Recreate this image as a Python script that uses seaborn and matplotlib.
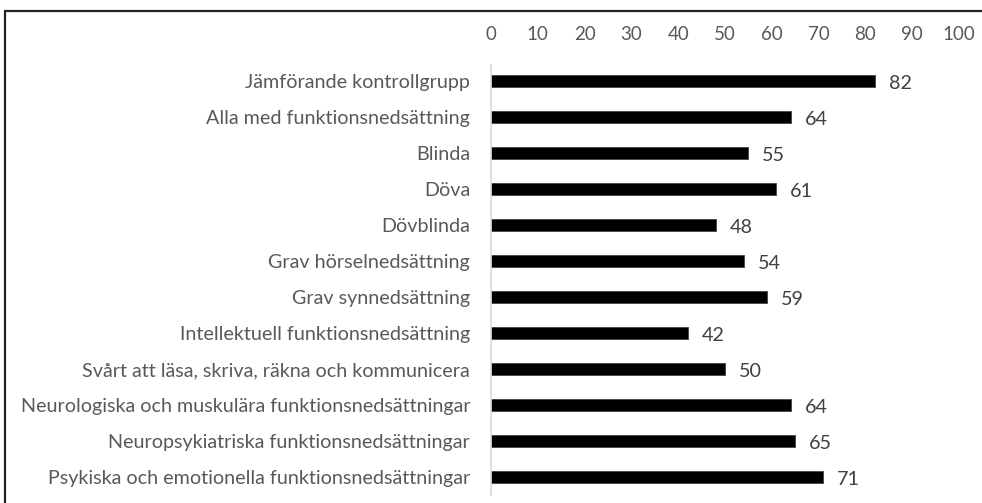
import matplotlib
matplotlib.use("Agg")
import matplotlib.pyplot as plt
from matplotlib.lines import Line2D
import seaborn as sns
import pandas as pd

categories = [
    "Jämförande kontrollgrupp",
    "Alla med funktionsnedsättning",
    "Blinda",
    "Döva",
    "Dövblinda",
    "Grav hörselnedsättning",
    "Grav synnedsättning",
    "Intellektuell funktionsnedsättning",
    "Svårt att läsa, skriva, räkna och kommunicera",
    "Neurologiska och muskulära funktionsnedsättningar",
    "Neuropsykiatriska funktionsnedsättningar",
    "Psykiska och emotionella funktionsnedsättningar",
]
values = [82, 64, 55, 61, 48, 54, 59, 42, 50, 64, 65, 71]
x_ticks = [0, 10, 20, 30, 40, 50, 60, 70, 80, 90, 100]

df = pd.DataFrame({"grupp": categories, "andel": values})

sns.set_theme(style="white")
plt.rcParams["font.family"] = ["Lato", "DejaVu Sans"]

W, H = 982, 503
fig = plt.figure(figsize=(W / 100, H / 100), dpi=100)
ax = fig.add_axes([491 / W, 1 - 495 / H, (959 - 491) / W, (495 - 65) / H])

sns.barplot(data=df, x="andel", y="grupp", color="black", width=0.33,
            edgecolor="#444444", linewidth=0.6, ax=ax, saturation=1)

text_color = "#595959"
ax.set_xlim(0, 100)
ax.set_ylim(11.5, -0.45)
ax.set_xticks(x_ticks)
ax.xaxis.tick_top()
ax.tick_params(axis="x", length=0, pad=16, labelsize=13.5, labelcolor=text_color)
ax.tick_params(axis="y", length=0, pad=15, labelsize=14.2, labelcolor=text_color)
ax.set_xlabel("")
ax.set_ylabel("")
for side in ["top", "right", "bottom"]:
    ax.spines[side].set_visible(False)
ax.spines["left"].set_color("#d9d9d9")
ax.spines["left"].set_linewidth(1.2)

labels = ax.bar_label(ax.containers[0], labels=[str(v) for v in values], padding=10,
                      fontsize=14.2, color="#404040")
for t in labels:
    t.xyann = (t.xyann[0], -2)

# Outer frame (top and left edges)
fig.add_artist(Line2D([5 / W, 1], [1 - 11 / H, 1 - 11 / H], color="#222222", lw=1.6,
                      transform=fig.transFigure))
fig.add_artist(Line2D([5 / W, 5 / W], [0, 1 - 11 / H], color="#222222", lw=1.6,
                      transform=fig.transFigure))

fig.savefig("out.png", dpi=100)
